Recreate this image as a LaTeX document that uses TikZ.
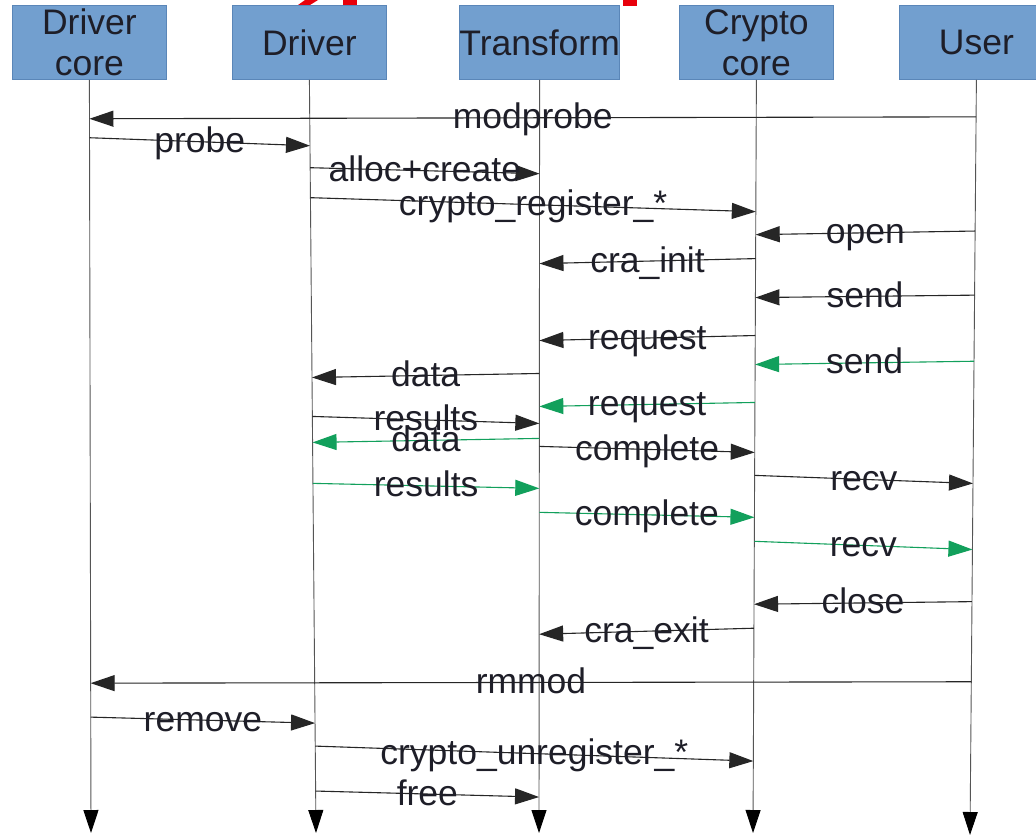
\documentclass[tikz,border=0pt]{standalone}
\usepackage{fontspec}
\setmainfont{Liberation Sans}
\usetikzlibrary{arrows.meta,calc}

\definecolor{boxfill}{HTML}{729FCF}
\definecolor{boxedge}{HTML}{5A86B8}
\definecolor{msggreen}{HTML}{12A05C}
\definecolor{inkdark}{HTML}{1E1E28}
\definecolor{lifegray}{HTML}{555555}
\definecolor{titlered}{HTML}{E8000B}

\tikzset{
  actor/.style={draw=boxedge, fill=boxfill, line width=0.8pt,
    minimum width=154pt, minimum height=74pt, inner sep=0pt,
    text=inkdark, font=\fontsize{35.5}{41}\selectfont, align=center,
    anchor=north west},
  lifeline/.style={draw=lifegray, line width=0.9pt,
    -{Triangle[length=23pt,width=15pt,color=black]}},
  msg/.style={draw=black!85, line width=1.1pt,
    -{Triangle[length=24pt,width=16pt]}},
  msggr/.style={draw=msggreen, line width=1.1pt,
    -{Triangle[length=24pt,width=16pt]}},
  lbl/.style={anchor=base, yshift=-11pt, inner sep=0pt, text=inkdark,
    font=\fontsize{35.5}{41}\selectfont},
}

% message between two lifelines: style, from, y at start, to, y at end, label
\newcommand\seqmsg[6]{%
  \draw[#1] ($(#2.south)!{(#3-79)/754}!(#2E)$) -- node[lbl]{#6}
            ($(#4.south)!{(#5-79)/754}!(#4E)$);}

\begin{document}
\begin{tikzpicture}[x=1pt, y=-1pt]
  \clip (0,0) rectangle (1036,838);
  \fill[white] (0,0) rectangle (1036,838);

  % bottoms of the heading letters above the participants
  \fill[titlered] (298,5) -- (305,0) -- (318,0) -- (310,5) -- cycle;
  \fill[titlered] (343,0) rectangle (357,5);
  \fill[titlered] (623,0) rectangle (637,6);

  % participants
  \node[actor] (dc) at (12,5)  {Driver\\core};
  \node[actor] (dr) at (232,5) {Driver};
  \node[actor] (tf) at (459,5) {Transform};
  \node[actor] (cc) at (679,5) {Crypto\\core};
  \node[actor] (us) at (899,5) {User};

  % lifelines
  \coordinate (dcE) at (91,833);
  \coordinate (drE) at (316,833);
  \coordinate (tfE) at (539,833);
  \coordinate (ccE) at (753,833);
  \coordinate (usE) at (970,835);
  \foreach \p in {dc,dr,tf,cc,us}
    \draw[lifeline] (\p.south) -- (\p E);

  % messages
  \seqmsg{msg}{us}{116}{dc}{118}{modprobe}
  \seqmsg{msg}{dc}{137}{dr}{145}{probe}
  \seqmsg{msg}{dr}{167}{tf}{173}{alloc+create}
  \seqmsg{msg}{dr}{197}{cc}{211}{crypto\_register\_*}
  \seqmsg{msg}{us}{230}{cc}{234}{open}
  \seqmsg{msg}{cc}{258}{tf}{263}{cra\_init}
  \seqmsg{msg}{us}{294}{cc}{297}{send}
  \seqmsg{msg}{cc}{335}{tf}{340}{request}
  \seqmsg{msggr}{us}{360}{cc}{364}{send}
  \seqmsg{msg}{tf}{373}{dr}{377}{data}
  \seqmsg{msggr}{cc}{402}{tf}{406}{request}
  \seqmsg{msg}{dr}{416}{tf}{423}{results}
  \seqmsg{msggr}{tf}{438}{dr}{442}{data}
  \seqmsg{msg}{tf}{446}{cc}{452}{complete}
  \seqmsg{msggr}{dr}{483}{tf}{488}{results}
  \seqmsg{msg}{cc}{475}{us}{482}{recv}
  \seqmsg{msggr}{tf}{512}{cc}{517}{complete}
  \seqmsg{msggr}{cc}{541}{us}{548}{recv}
  \seqmsg{msg}{us}{600}{cc}{604}{close}
  \seqmsg{msg}{cc}{628}{tf}{634}{cra\_exit}
  \seqmsg{msg}{us}{680}{dc}{683}{rmmod}
  \seqmsg{msg}{dc}{717}{dr}{723}{remove}
  \seqmsg{msg}{dr}{746}{cc}{761}{crypto\_unregister\_*}
  \seqmsg{msg}{dr}{791}{tf}{797}{free}
\end{tikzpicture}
\end{document}
